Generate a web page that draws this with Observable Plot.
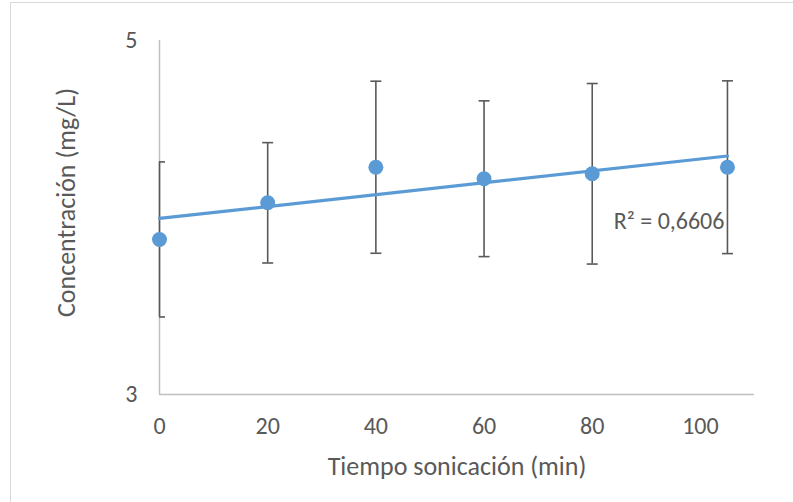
<!DOCTYPE html>
<html>
<head>
<meta charset="utf-8">
<script src="https://cdn.jsdelivr.net/npm/d3@7"></script>
<script src="https://cdn.jsdelivr.net/npm/@observablehq/plot@0.6"></script>
<style>
  html, body { margin: 0; padding: 0; background: #fff; overflow: hidden; width: 793px; height: 502px; }
  #frame { position: absolute; left: 10px; top: 2px; width: 800px; height: 520px; border: 1px solid #d9d9d9; box-sizing: border-box; }
  #chart { position: absolute; left: 0; top: 0; }
  #chart svg { background: transparent; }
</style>
</head>
<body>
<div id="frame"></div>
<div id="chart"></div>
<script>
// Data
const tiempo = [0, 20, 40, 60, 80, 105];               // min
const concentracion = [3.876, 4.083, 4.284, 4.219, 4.247, 4.284]; // mg/L
const errorBar = [0.438, 0.34, 0.486, 0.44, 0.51, 0.488];
const xTicks = [0, 20, 40, 60, 80, 100];
const yTicks = [3, 5];
const r2Label = "R² = 0,6606";
const r2LabelY = 3.98;
const xTitle = "Tiempo sonicación (min)";
const yTitle = "Concentración (mg/L)";

const data = tiempo.map((t, i) => ({x: t, y: concentracion[i], e: errorBar[i]}));

const FONT = "Carlito, Calibri, Lato, sans-serif";
const blue = "#5b9bd5";
const grey = "#595959";

const capSymbol = {
  draw(ctx, size) {
    const r = Math.sqrt(size / Math.PI);
    ctx.moveTo(-r, 0);
    ctx.lineTo(r, 0);
  }
};

const chart = Plot.plot({
  width: 793,
  height: 502,
  marginLeft: 159,
  marginRight: 39,
  marginTop: 40,
  marginBottom: 108,
  style: {fontFamily: FONT, background: "transparent", color: grey},
  x: {domain: [0, 110]},
  y: {domain: [3, 5]},
  marks: [
    Plot.ruleY([3], {stroke: "#bfbfbf", strokeWidth: 1.5}),
    Plot.ruleX([0], {stroke: "#bfbfbf", strokeWidth: 1.5}),
    Plot.axisX({ticks: xTicks, tickSize: 0, tickPadding: 22, fontSize: 24, label: null, tickFormat: d => String(d)}),
    Plot.axisY({ticks: yTicks, tickSize: 0, tickPadding: 22, fontSize: 24, label: null, tickFormat: d => String(d)}),
    Plot.ruleX(data, {x: "x", y1: d => d.y - d.e, y2: d => d.y + d.e, stroke: grey, strokeWidth: 1.6}),
    Plot.dot(data, {x: "x", y: d => d.y - d.e, symbol: capSymbol, r: 5.5, stroke: grey, strokeWidth: 1.6, fill: "none", clip: true}),
    Plot.dot(data, {x: "x", y: d => d.y + d.e, symbol: capSymbol, r: 5.5, stroke: grey, strokeWidth: 1.6, fill: "none", clip: true}),
    Plot.dot(data, {x: "x", y: "y", r: 7.5, fill: blue, stroke: "none"}),
    Plot.linearRegressionY(data, {x: "x", y: "y", stroke: blue, strokeWidth: 3.2, ci: 0}),
    Plot.text([r2Label], {x: d3.max(tiempo), y: r2LabelY, text: d => d, textAnchor: "end", dx: -3, fontSize: 24, fill: grey}),
    Plot.text([xTitle], {frameAnchor: "bottom", text: d => d, textAnchor: "middle", lineAnchor: "middle", dy: 72, fontSize: 26, fill: grey}),
    Plot.text([yTitle], {frameAnchor: "left", text: d => d, textAnchor: "middle", lineAnchor: "middle", dx: -93, dy: -15, rotate: -90, fontSize: 26, fill: grey})
  ]
});
document.getElementById("chart").appendChild(chart);
</script>
</body>
</html>
